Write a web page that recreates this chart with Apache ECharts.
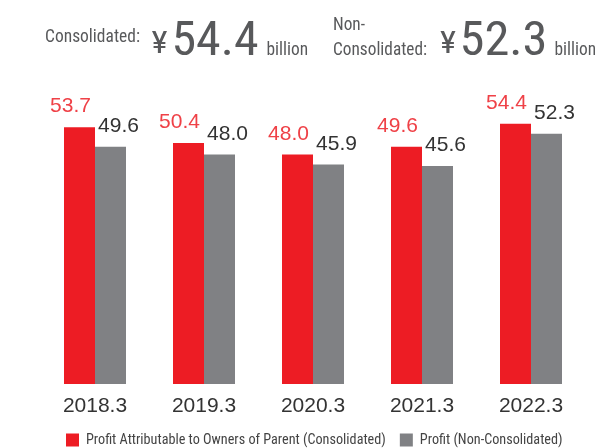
<!DOCTYPE html>
<html>
<head>
<meta charset="utf-8">
<script src="https://cdn.jsdelivr.net/npm/echarts@6/dist/echarts.min.js"></script>
<style>html,body{margin:0;padding:0;background:#fff;}#c{width:595px;height:448px;}</style>
</head>
<body>
<div id="c"></div>
<script>
const categories = ['2018.3', '2019.3', '2020.3', '2021.3', '2022.3'];
const consolidated = [53.7, 50.4, 48.0, 49.6, 54.4];
const nonConsolidated = [49.6, 48.0, 45.9, 45.6, 52.3];
const seriesNames = ['Profit Attributable to Owners of Parent (Consolidated)', 'Profit (Non-Consolidated)'];

const COND = '"Roboto Condensed", "DejaVu Sans Condensed", sans-serif';
const SANS = '"Liberation Sans", Arial, sans-serif';
const RED = '#ED1C24', GRAY = '#808184', HEAD = '#58595b';

const latestC = consolidated[consolidated.length - 1].toFixed(1);
const latestN = nonConsolidated[nonConsolidated.length - 1].toFixed(1);

const ctx = document.createElement('canvas').getContext('2d');
function widthOf(text, font) { ctx.font = font; return ctx.measureText(text).width; }
// header text: x = left edge, y = vertical centre of capitals, w = target width
function t(text, x, y, size, w) {
  const font = size + 'px ' + COND;
  const s = w ? w / widthOf(text, font) : 1;
  return { type: 'text', x: x, y: y + 0.1 * size, scaleX: s, silent: true,
    style: { text: text, font: font, fill: HEAD, align: 'left', verticalAlign: 'middle' } };
}

const chart = echarts.init(document.getElementById('c'));
chart.setOption({
  animation: false,
  grid: { left: 40.5, right: 9.5, top: 97, bottom: 64 },
  xAxis: {
    type: 'category', data: categories,
    axisLine: { show: false }, axisTick: { show: false },
    axisLabel: { color: '#333', fontSize: 21, fontFamily: SANS, margin: 12 }
  },
  yAxis: { type: 'value', min: 0, max: 60, show: false, splitLine: { show: false } },
  legend: {
    left: 66, top: 433, itemWidth: 13, itemHeight: 13, itemGap: 14, icon: 'rect', padding: 0,
    textStyle: { color: '#444', fontSize: 14.2, fontFamily: COND, padding: [0, 0, 0, 2] },
    data: seriesNames
  },
  graphic: [
    t('Consolidated:', 45, 35, 19, 95),
    t('¥', 151.5, 42.5, 31, 16),
    t(latestC, 171.5, 37.5, 49, 87),
    t('billion', 266.5, 48.6, 18, 41.6),
    t('Non-', 333, 23.3, 19, 32),
    t('Consolidated:', 333, 48.3, 19, 94),
    t('¥', 440, 42.5, 31, 16),
    t(latestN, 459.5, 37.5, 49, 88),
    t('billion', 554.5, 48.6, 18, 41.6)
  ],
  series: [
    {
      name: seriesNames[0], type: 'bar', data: consolidated, barWidth: 31, barGap: '0%',
      itemStyle: { color: RED },
      label: { show: true, position: 'top', distance: 10, offset: [-9, 0], color: '#EF4147', fontSize: 21, fontFamily: SANS, formatter: p => p.value.toFixed(1) }
    },
    {
      name: seriesNames[1], type: 'bar', data: nonConsolidated, barWidth: 31,
      itemStyle: { color: GRAY },
      label: { show: true, position: 'top', distance: 10, offset: [8, 0], color: '#333', fontSize: 21, fontFamily: SANS, formatter: p => p.value.toFixed(1) }
    }
  ]
});
</script>
</body>
</html>
